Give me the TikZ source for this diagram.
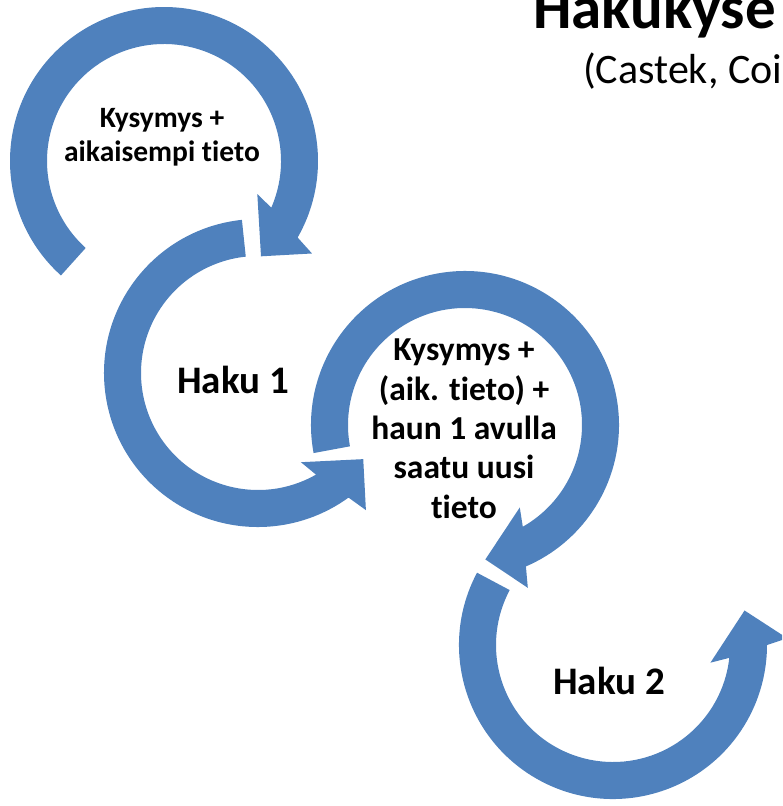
\documentclass[tikz,border=0pt]{standalone}
\usepackage{fontspec}
\setmainfont{Carlito}[Ligatures=NoCommon]
\definecolor{arrowblue}{HTML}{4F81BD}
\newcommand\ringarrow[4]{%
  \fill[arrowfill, shift={#1}] (#2:154) arc[start angle=#2, end angle={#3+6.3*#4}, radius=154]
    -- ({#3+8.5*#4}:174.5) -- ({#3+21*#4}:136) -- ({#3-4*#4}:99) -- (#3:117)
    arc[start angle=#3, end angle=#2, radius=117] -- cycle;}
\begin{document}
\begin{tikzpicture}[x=1pt, y=-1pt,
  arrowfill/.style={fill=arrowblue},
  lbl/.style={inner sep=0pt, align=center, anchor=base, font=\bfseries}]
\useasboundingbox (0,0) rectangle (782,806);
\clip (0,0) rectangle (782,806);
\ringarrow{(164,161)}{132}{383.5}{1}
\ringarrow{(258,373)}{264}{60.3}{-1}
\ringarrow{(465,425)}{169.5}{420.4}{1}
\ringarrow{(613,645)}{208}{6.3}{-1}
\node[lbl, font=\bfseries\fontsize{29.5}{34}\selectfont] (t1) at (162,161.7) {Kysymys +\\aikaisempi tieto};
\node[lbl, font=\bfseries\fontsize{39}{46}\selectfont] (h1) at (233,393) {Haku 1};
\node[lbl, font=\bfseries\fontsize{33.5}{39.3}\selectfont] (t3) at (464,518) {Kysymys +\\(aik. tieto) +\\haun 1 avulla\\saatu uusi\\tieto};
\node[lbl, font=\bfseries\fontsize{39}{46}\selectfont] (h2) at (609,694) {Haku 2};
\node[inner sep=0pt, anchor=base west, font=\bfseries\fontsize{61}{70}\selectfont] (title) at (533,28) {Hakukyse};
\node[inner sep=0pt, anchor=base west, font=\fontsize{42}{50}\selectfont] (sub) at (583,83) {(Castek, Coi};
\end{tikzpicture}
\end{document}
